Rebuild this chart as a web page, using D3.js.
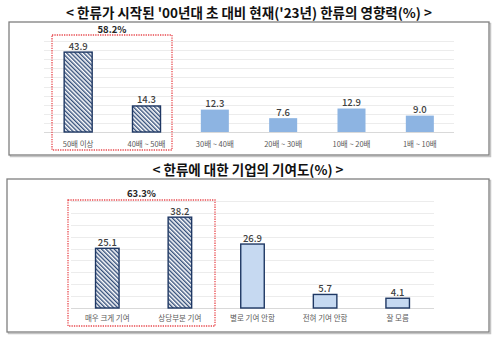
<!DOCTYPE html>
<html>
<head>
<meta charset="utf-8">
<script src="https://cdn.jsdelivr.net/npm/d3@7"></script>
<style>
  html, body { margin: 0; padding: 0; background: #fff; }
  svg { display: block; }
  text { font-family: "Noto Sans CJK KR", "Noto Sans", sans-serif; }
</style>
</head>
<body>
<svg id="chart" width="500" height="344"></svg>
<script>
// Influence of Hallyu now ('23) vs. early 2000s (%)
const impactTitle = "< 한류가 시작된 '00년대 초 대비 현재('23년) 한류의 영향력(%) >";
const impactCategories = ["50배 이상", "40배 ~ 50배", "30배 ~ 40배", "20배 ~ 30배", "10배 ~ 20배", "1배 ~ 10배"];
const impactValues = [43.9, 14.3, 12.3, 7.6, 12.9, 9.0];
const impactHighlighted = [true, true, false, false, false, false];
const impactGroupLabel = "58.2%";
const impactTicks = [0, 5, 10, 15, 20, 25, 30, 35, 40, 45, 50];

// Companies' contribution to Hallyu (%)
const contribTitle = "< 한류에 대한 기업의 기여도(%) >";
const contribCategories = ["매우 크게 기여", "상당부분 기여", "별로 기여 안함", "전혀 기여 안함", "잘 모름"];
const contribValues = [25.1, 38.2, 26.9, 5.7, 4.1];
const contribHighlighted = [true, true, false, false, false];
const contribGroupLabel = "63.3%";
const contribTicks = [0, 5, 10, 15, 20, 25, 30, 35, 40, 45];

const svg = d3.select("#chart");
const defs = svg.append("defs");

// diagonal hatch for highlighted bars
defs.append("pattern")
  .attr("id", "hatch")
  .attr("patternUnits", "userSpaceOnUse")
  .attr("width", 3).attr("height", 3)
  .attr("patternTransform", "rotate(-45)")
  .call(p => {
    p.append("rect").attr("width", 3).attr("height", 3).attr("fill", "#ffffff");
    p.append("rect").attr("width", 1.4).attr("height", 3).attr("fill", "#344f7a");
  });

const NAVY = "#1f3864";
const RED = "#e84a4f";

function panelFrame(x, y, w, h) {
  svg.append("rect")
    .attr("x", x + 1.5).attr("y", y + 1.5).attr("width", w).attr("height", h)
    .attr("fill", "none").attr("stroke", "#c4c4c4").attr("stroke-width", 1.5);
  svg.append("rect")
    .attr("x", x).attr("y", y).attr("width", w).attr("height", h)
    .attr("fill", "#fff").attr("stroke", "#7f7f7f").attr("stroke-width", 1.3);
}

function title(text, cx, cy, size) {
  svg.append("text")
    .attr("x", cx).attr("y", cy)
    .attr("text-anchor", "middle").attr("dominant-baseline", "central")
    .attr("font-size", size).attr("font-weight", 700).attr("fill", "#111")
    .text(text);
}

function barPanel(cfg) {
  const x = d3.scaleBand()
    .domain(cfg.categories)
    .range(cfg.xRange)
    .paddingInner(cfg.padInner)
    .paddingOuter(cfg.padInner / 2);
  const y = d3.scaleLinear().domain([0, cfg.yMax]).range(cfg.yRange);

  const g = svg.append("g");

  // horizontal gridlines
  g.append("g").selectAll("line").data(cfg.ticks).join("line")
    .attr("x1", cfg.xRange[0]).attr("x2", cfg.xRange[1])
    .attr("y1", d => Math.round(y(d)) + 0.5).attr("y2", d => Math.round(y(d)) + 0.5)
    .attr("stroke", d => d === 0 ? "#d9d9d9" : "#ececec").attr("stroke-width", 1);

  const data = cfg.categories.map((c, i) => ({ c, v: cfg.values[i], hi: cfg.highlighted[i] }));

  g.append("g").selectAll("rect").data(data).join("rect")
    .attr("x", d => x(d.c))
    .attr("y", d => y(d.v))
    .attr("width", x.bandwidth())
    .attr("height", d => y(0) - y(d.v))
    .attr("fill", d => d.hi ? "url(#hatch)" : cfg.plainFill)
    .attr("stroke", d => d.hi ? NAVY : cfg.plainStroke)
    .attr("stroke-width", d => d.hi ? 1.4 : cfg.plainStrokeWidth);

  // value labels
  g.append("g").selectAll("text").data(data).join("text")
    .attr("x", d => x(d.c) + x.bandwidth() / 2)
    .attr("y", d => y(d.v) - 6.5)
    .attr("text-anchor", "middle").attr("dominant-baseline", "central")
    .attr("font-family", "'Noto Sans', sans-serif")
    .attr("font-size", cfg.valueSize).attr("font-weight", 500).attr("fill", "#404040")
    .text(d => d.v.toFixed(1));

  // category labels
  g.append("g").selectAll("text").data(data).join("text")
    .attr("x", d => x(d.c) + x.bandwidth() / 2)
    .attr("y", cfg.catY)
    .attr("text-anchor", "middle").attr("dominant-baseline", "central")
    .attr("font-size", 7.5).attr("fill", "#595959")
    .text(d => d.c);

  // dotted box around the highlighted group
  svg.append("rect")
    .attr("x", cfg.box[0]).attr("y", cfg.box[1])
    .attr("width", cfg.box[2] - cfg.box[0]).attr("height", cfg.box[3] - cfg.box[1])
    .attr("fill", "none").attr("stroke", RED).attr("stroke-width", 1.3)
    .attr("stroke-dasharray", "1.3,1.1");

  svg.append("text")
    .attr("x", (cfg.box[0] + cfg.box[2]) / 2).attr("y", cfg.groupY)
    .attr("text-anchor", "middle").attr("dominant-baseline", "central")
    .attr("font-family", "'Noto Sans', sans-serif")
    .attr("font-size", 9.5).attr("font-weight", 700).attr("fill", "#262626")
    .text(cfg.groupLabel);
}

// ---- top panel ----
title(impactTitle, 249, 12, 13.5);
panelFrame(9, 22, 480, 133);
barPanel({
  categories: impactCategories, values: impactValues, highlighted: impactHighlighted,
  ticks: impactTicks, yMax: 50,
  xRange: [44, 454], yRange: [132, 41], padInner: 0.59,
  plainFill: "#8db4e2", plainStroke: "none", plainStrokeWidth: 0,
  valueSize: 9.5, catY: 143,
  box: [52, 35, 172, 150], groupLabel: impactGroupLabel, groupY: 29
});

// ---- bottom panel ----
title(contribTitle, 248, 169, 13.5);
panelFrame(7, 179, 482, 153);
barPanel({
  categories: contribCategories, values: contribValues, highlighted: contribHighlighted,
  ticks: contribTicks, yMax: 45,
  xRange: [71, 434], yRange: [308, 201], padInner: 0.676,
  plainFill: "#c6d9f1", plainStroke: NAVY, plainStrokeWidth: 1.4,
  valueSize: 9.5, catY: 317,
  box: [68, 200, 215, 326], groupLabel: contribGroupLabel, groupY: 193
});
</script>
</body>
</html>
